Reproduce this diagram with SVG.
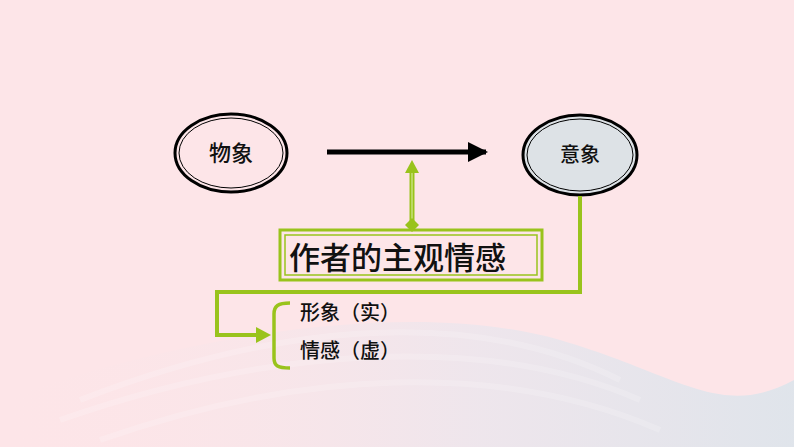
<svg xmlns="http://www.w3.org/2000/svg" width="794" height="447" viewBox="0 0 794 447">
<defs>
<style>
.cjk{font-family:"Noto Sans CJK SC","Noto Sans CJK TC",sans-serif;fill:#111;font-weight:500;}
.grn{stroke:#99c31c;fill:none;}
</style>
<linearGradient id="wave" x1="0" y1="0" x2="1" y2="0">
<stop offset="0" stop-color="#fde6e8" stop-opacity="0"/>
<stop offset="0.6" stop-color="#e8e6ee"/>
<stop offset="1" stop-color="#d3e4ec"/>
</linearGradient>
<marker id="ah" viewBox="0 0 10 10" refX="9" refY="5" markerWidth="4" markerHeight="4" orient="auto" markerUnits="strokeWidth">
<path d="M0,0 L10,5 L0,10 z" fill="#000"/>
</marker>
</defs>
<rect width="794" height="447" fill="#fde5e8"/>
<path d="M0,447 L0,400 C200,330 420,300 560,340 C680,375 720,420 794,380 L794,447 Z" fill="url(#wave)" opacity="0.7"/>
<g fill="none" stroke="#fff" stroke-opacity="0.18" stroke-width="6">
<path d="M80,400 C260,330 460,300 620,380"/>
<path d="M60,420 C260,350 480,330 640,400"/>
<path d="M100,440 C300,370 500,360 660,430"/>
</g>
<g id="wuxiang">
<ellipse cx="231" cy="153" rx="56" ry="39" fill="#fde5e8" stroke="#000" stroke-width="3"/>
<ellipse cx="231" cy="153" rx="52" ry="35" fill="none" stroke="#000" stroke-width="1"/>
<text class="cjk" x="231" y="161" font-size="22" text-anchor="middle">物象</text>
</g>
<g id="yixiang">
<ellipse cx="580" cy="155" rx="57" ry="40" fill="#dde2e6" stroke="#000" stroke-width="3"/>
<ellipse cx="580" cy="155" rx="53" ry="36" fill="none" stroke="#000" stroke-width="1"/>
<text class="cjk" x="580" y="162" font-size="20" text-anchor="middle">意象</text>
</g>
<g id="qinggan">
<rect x="280" y="230" width="262" height="50" fill="#fde5e8" stroke="#99c31c" stroke-width="3"/>
<rect x="285" y="235" width="252" height="40" fill="none" stroke="#99c31c" stroke-width="1.5"/>
<text class="cjk" x="289" y="269" font-size="31">作者的主观情感</text>
</g>
<g id="items">
<text class="cjk" x="300" y="320" font-size="20">形象（实）</text>
<text class="cjk" x="300" y="358" font-size="20">情感（虚）</text>
</g>
<g id="connectors">
<line x1="327" y1="152" x2="486" y2="152" stroke="#000" stroke-width="5" marker-end="url(#ah)"/>
<line x1="412" y1="170" x2="412" y2="222" stroke="#99c31c" stroke-width="5"/>
<line x1="412" y1="170" x2="412" y2="222" stroke="#c7e07a" stroke-width="1.5"/>
<path d="M412,160 L419,173 L405,173 Z" fill="#99c31c"/>
<path d="M412,218 L419,225 L412,232 L405,225 Z" fill="#99c31c"/>
<path class="grn" d="M580,196 L580,292 L217,292 L217,335 L258,335" stroke-width="4"/>
<path d="M256,327 L271,335 L256,343 Z" fill="#99c31c"/>
<path class="grn" d="M290,303 C278,303 274,306 274,314 L274,358 C274,366 278,368 290,368" stroke-width="3.5"/>
</g>
</svg>
